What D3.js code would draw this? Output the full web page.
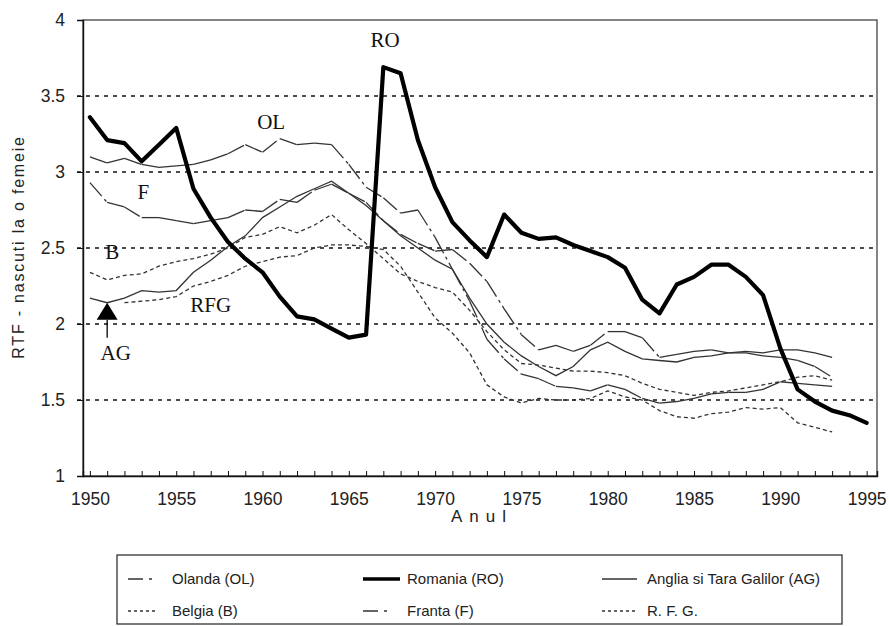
<!DOCTYPE html>
<meta charset="utf-8">
<title>RTF 1950-1995</title>
<style>
  body { margin: 0; background: #fff; }
  svg { display: block; font-family: "Liberation Sans", Arial, sans-serif; }
  .lbl { font-family: "Liberation Serif", "Times New Roman", serif; font-size: 21px; fill: #111; }
</style>
<body>
<script src="https://d3js.org/d3.v7.min.js"></script>
<script>
// years on the category axis
const years = d3.range(1950, 1996);
const xTicks = [1950, 1955, 1960, 1965, 1970, 1975, 1980, 1985, 1990, 1995];
const yTicks = [1, 1.5, 2, 2.5, 3, 3.5, 4];

// total fertility rate (1950 onwards)
const ro = [3.36,3.21,3.19,3.07,3.18,3.29,2.89,2.70,2.54,2.43,
            2.34,2.18,2.05,2.03,1.97,1.91,1.93,3.69,3.65,3.21,
            2.90,2.67,2.55,2.44,2.72,2.60,2.56,2.57,2.52,2.48,
            2.44,2.37,2.16,2.07,2.26,2.31,2.39,2.39,2.31,2.19,
            1.84,1.57,1.49,1.43,1.40,1.35];
const ol = [3.10,3.06,3.09,3.05,3.03,3.04,3.05,3.08,3.12,3.18,
            3.13,3.22,3.18,3.19,3.18,3.05,2.90,2.83,2.73,2.75,
            2.57,2.36,2.15,1.90,1.77,1.67,1.64,1.59,1.58,1.56,
            1.60,1.57,1.51,1.48,1.49,1.51,1.54,1.55,1.55,1.57,
            1.62,1.61,1.60,1.59];
const ag = [2.17,2.14,2.17,2.22,2.21,2.22,2.34,2.42,2.51,2.58,
            2.70,2.77,2.84,2.89,2.94,2.86,2.78,2.68,2.58,2.50,
            2.42,2.36,2.17,2.00,1.88,1.79,1.72,1.66,1.72,1.83,
            1.88,1.82,1.77,1.76,1.75,1.78,1.79,1.81,1.82,1.81,
            1.83,1.83,1.81,1.78];
const fr = [2.93,2.80,2.77,2.70,2.70,2.68,2.66,2.68,2.70,2.75,
            2.74,2.82,2.80,2.88,2.92,2.86,2.80,2.68,2.59,2.53,
            2.48,2.49,2.40,2.28,2.10,1.93,1.83,1.86,1.82,1.86,
            1.95,1.95,1.91,1.78,1.80,1.82,1.83,1.81,1.81,1.79,
            1.78,1.76,1.72,1.65];
const be = [2.34,2.29,2.32,2.33,2.38,2.41,2.43,2.46,2.50,2.57,
            2.59,2.64,2.60,2.65,2.72,2.62,2.53,2.43,2.33,2.28,
            2.24,2.21,2.09,1.95,1.83,1.74,1.73,1.71,1.69,1.69,
            1.68,1.66,1.61,1.57,1.55,1.53,1.55,1.56,1.58,1.60,
            1.62,1.65,1.66,1.63];
const rfg = [null,null,2.14,2.15,2.16,2.18,2.25,2.28,2.32,2.38,
             2.41,2.44,2.45,2.50,2.52,2.52,2.51,2.49,2.38,2.21,
             2.04,1.94,1.81,1.60,1.52,1.48,1.51,1.50,1.50,1.51,
             1.56,1.52,1.50,1.43,1.39,1.38,1.41,1.42,1.45,1.44,
             1.45,1.35,1.32,1.29];

const W = 889, H = 626;
const svg = d3.select("body").append("svg").attr("width", W).attr("height", H);

const x = d3.scaleLinear().domain([1949.6, 1995.6]).range([83, 877]);
const y = d3.scaleLinear().domain([1, 4]).range([476, 20]);

const ink = "#333";

// dotted grid
svg.append("g").selectAll("line")
  .data(yTicks.filter(d => d > 1 && d < 4))
  .join("line")
  .attr("x1", 77).attr("x2", x.range()[1])
  .attr("y1", d => y(d)).attr("y2", d => y(d))
  .attr("stroke", "#111").attr("stroke-width", 1.3)
  .attr("stroke-dasharray", "4,5");

// frame
svg.append("rect")
  .attr("x", x.range()[0]).attr("y", y.range()[1])
  .attr("width", x.range()[1] - x.range()[0])
  .attr("height", y.range()[0] - y.range()[1])
  .attr("fill", "none").attr("stroke", "#444").attr("stroke-width", 1.3);

// axes
const yAxis = svg.append("g").attr("transform", `translate(${x.range()[0]},0)`)
  .call(d3.axisLeft(y).tickValues(yTicks).tickFormat(d => String(d)).tickSize(6).tickPadding(12));
const xAxis = svg.append("g").attr("transform", `translate(0,${y.range()[0]})`)
  .call(d3.axisBottom(x).tickValues(years).tickSize(-5).tickPadding(12)
    .tickFormat(d => xTicks.includes(d) ? String(d) : ""));
[yAxis, xAxis].forEach(g => {
  g.select(".domain").attr("stroke", "#111").attr("stroke-width", 1.4);
  g.selectAll(".tick line").attr("stroke", "#111");
  g.selectAll("text").attr("font-size", 17.5).attr("fill", "#222")
    .attr("font-family", "'Liberation Sans', Arial, sans-serif");
});
xAxis.selectAll(".tick text").attr("dy", "0.95em");

// axis titles
svg.append("text")
  .attr("transform", "translate(24,247) rotate(-90)")
  .attr("text-anchor", "middle")
  .attr("font-size", 16).attr("letter-spacing", 1.8).attr("fill", "#222")
  .text("RTF - nascuti la o femeie");
svg.append("text")
  .attr("x", 482).attr("y", 522)
  .attr("text-anchor", "middle")
  .attr("font-size", 17).attr("letter-spacing", 7).attr("fill", "#222")
  .text("Anul");

const line = d3.line().x(d => x(d[0])).y(d => y(d[1]));
const pts = arr => arr.map((v, i) => [years[i], v]);

// Excel style: dash pattern restarts on every segment
function segmented(arr, dash) {
  const p = pts(arr);
  const segs = [];
  for (let i = 0; i < p.length - 1; i++) {
    if (p[i][1] != null && p[i + 1][1] != null) segs.push([p[i], p[i + 1]]);
  }
  svg.append("g").selectAll("path").data(segs).join("path")
    .attr("d", line)
    .attr("fill", "none").attr("stroke", ink).attr("stroke-width", 1.3)
    .attr("stroke-dasharray", dash);
}
function plain(arr, dash) {
  svg.append("path")
    .attr("d", d3.line().defined(d => d[1] != null).x(d => x(d[0])).y(d => y(d[1]))(pts(arr)))
    .attr("fill", "none").attr("stroke", ink).attr("stroke-width", 1.3)
    .attr("stroke-dasharray", dash);
}

plain(rfg, "4,3");
plain(be, "4,3");
segmented(fr, "18,4,3,4");
segmented(ol, "18,4,3,4");
plain(ag, null);

svg.append("path")
  .attr("d", line(pts(ro)))
  .attr("fill", "none").attr("stroke", "#000").attr("stroke-width", 4.2)
  .attr("stroke-linejoin", "round").attr("stroke-linecap", "round");

// series labels
const labels = [
  ["RO", 1967.1, 3.82],
  ["OL", 1960.5, 3.28],
  ["F", 1953.1, 2.82],
  ["B", 1951.3, 2.43],
  ["RFG", 1957.0, 2.08],
  ["AG", 1951.5, 1.76]
];
svg.append("g").selectAll("text").data(labels).join("text")
  .attr("class", "lbl")
  .attr("x", d => x(d[1])).attr("y", d => y(d[2]))
  .attr("text-anchor", "middle")
  .text(d => d[0]);

// arrow marker pointing at AG in 1951
const ax = x(1951), ay = y(ag[1]);
svg.append("path")
  .attr("d", `M${ax},${ay} L${ax - 10.5},${ay + 17} L${ax + 10.5},${ay + 17} Z`)
  .attr("fill", "#000");
svg.append("line")
  .attr("x1", ax).attr("x2", ax).attr("y1", ay + 17).attr("y2", ay + 35)
  .attr("stroke", "#000").attr("stroke-width", 1.3);

// legend
const legend = svg.append("g");
legend.append("rect")
  .attr("x", 117).attr("y", 555).attr("width", 725).attr("height", 69)
  .attr("fill", "#fff").attr("stroke", "#222").attr("stroke-width", 1.2);

const legItems = [
  { name: "Olanda (OL)", col: 0, row: 0, dash: "15,6,3", w: 1.3 },
  { name: "Romania (RO)", col: 1, row: 0, dash: null, w: 3.5 },
  { name: "Anglia si Tara Galilor (AG)", col: 2, row: 0, dash: null, w: 1.3 },
  { name: "Belgia (B)", col: 0, row: 1, dash: "3,3", w: 1.3 },
  { name: "Franta (F)", col: 1, row: 1, dash: "15,6,3", w: 1.3 },
  { name: "R. F. G.", col: 2, row: 1, dash: "3,3", w: 1.3 }
];
const colX = [[128, 155, 172], [363, 400, 407], [602, 637, 647]];
const rowY = [579, 611];
const li = legend.selectAll("g.item").data(legItems).join("g").attr("class", "item");
li.append("line")
  .attr("x1", d => colX[d.col][0]).attr("x2", d => colX[d.col][1])
  .attr("y1", d => rowY[d.row]).attr("y2", d => rowY[d.row])
  .attr("stroke", d => d.w > 2 ? "#000" : ink).attr("stroke-width", d => d.w)
  .attr("stroke-dasharray", d => d.dash);
li.append("text")
  .attr("x", d => colX[d.col][2]).attr("y", d => rowY[d.row] + 5)
  .attr("font-size", 15).attr("fill", "#222")
  .text(d => d.name);
</script>
</body>
